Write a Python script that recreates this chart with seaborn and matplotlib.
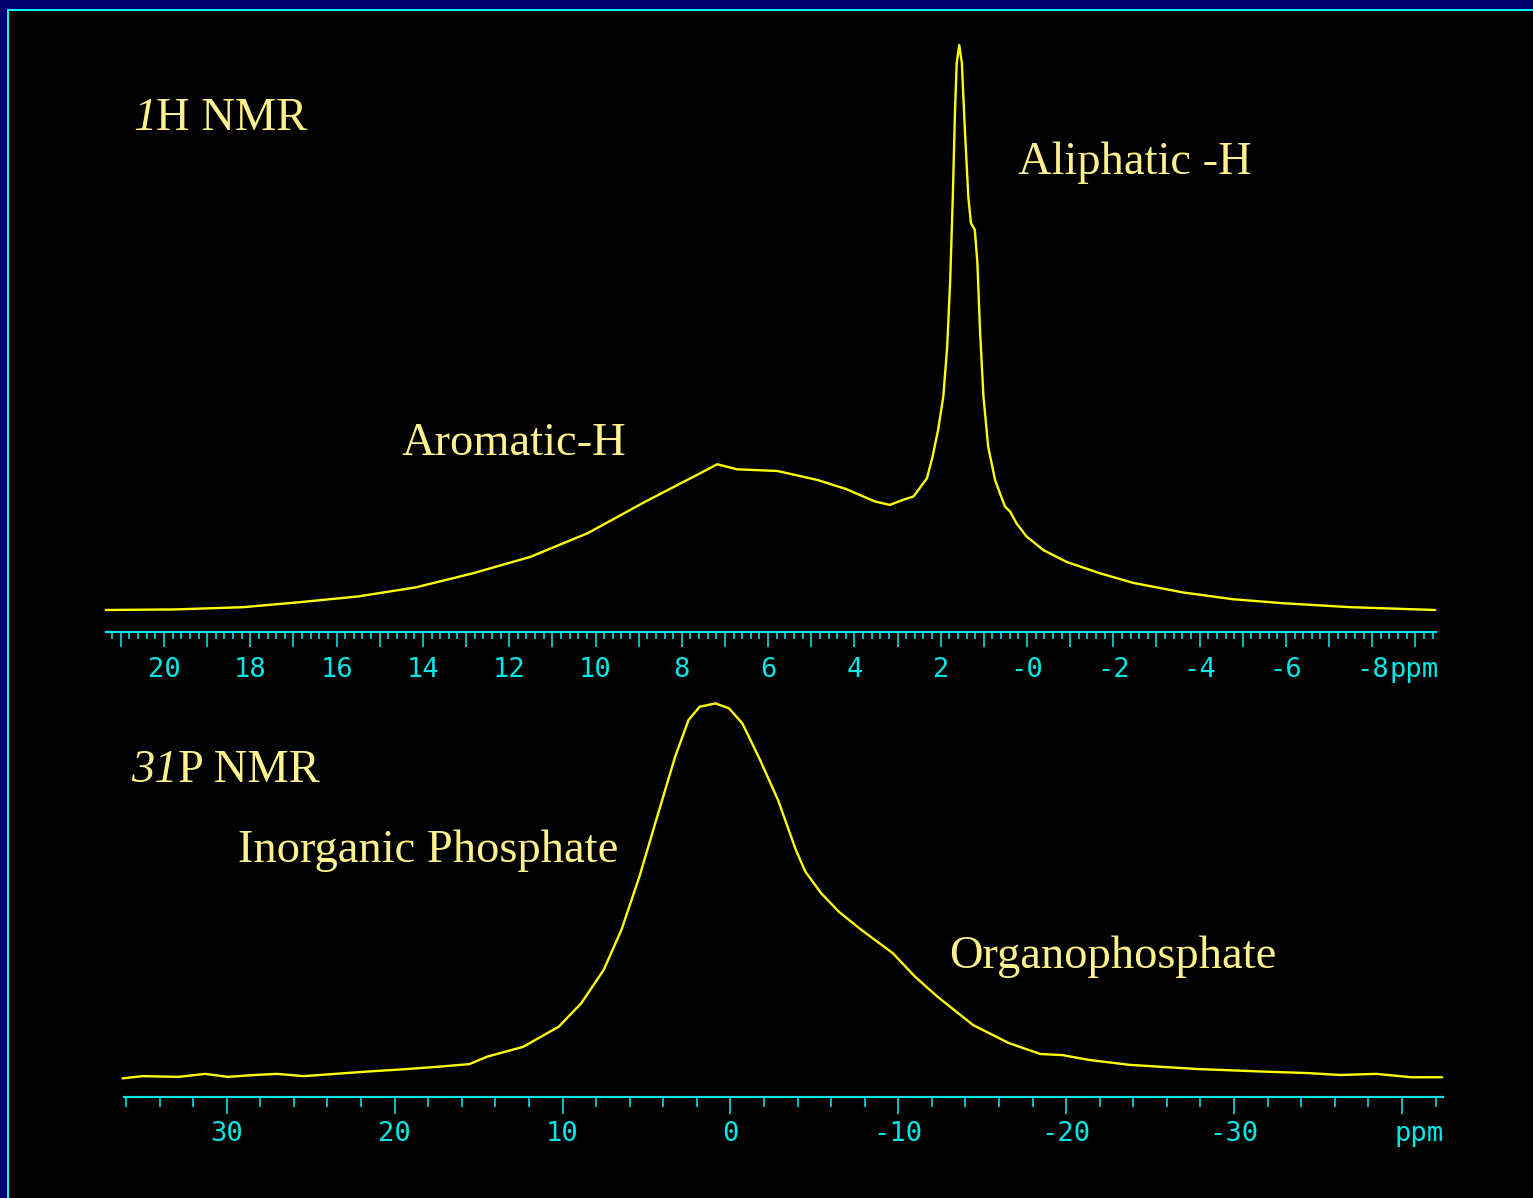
import numpy as np
import pandas as pd
import seaborn as sns
import matplotlib
matplotlib.use("Agg")
import matplotlib.pyplot as plt
import matplotlib.patches as mpatches
from matplotlib.ticker import MultipleLocator, FuncFormatter

# ---------------- data ----------------
h_ppm = [21.35, 19.75, 18.16, 16.83, 15.50, 14.17, 12.84, 11.51, 10.18, 8.84,
         7.65, 7.18, 6.72, 5.78, 4.85, 4.19, 3.52, 3.18, 2.87, 2.63,
         2.32, 2.19, 2.06, 1.94, 1.85, 1.78, 1.72, 1.67, 1.63, 1.57,
         1.51, 1.44, 1.36, 1.30, 1.21, 1.15, 1.09, 1.01, 0.90, 0.74,
         0.63, 0.51, 0.39, 0.24, 0.01, -0.38, -0.92, -1.69, -2.46, -3.62,
         -4.78, -5.94, -7.49, -9.46]
h_int = [0.0, 0.1, 0.5, 1.4, 2.4, 4.0, 6.5, 9.4, 13.6, 19.2,
         23.9, 25.8, 24.9, 24.6, 23.0, 21.4, 19.2, 18.6, 19.5, 20.1,
         23.3, 27.1, 31.9, 37.8, 46.6, 58.4, 73.1, 88.0, 96.8, 100.0,
         96.8, 85.0, 73.1, 68.5, 67.3, 61.4, 49.6, 37.8, 28.9, 23.0,
         20.7, 18.3, 17.4, 15.3, 13.0, 10.6, 8.5, 6.5, 4.8, 3.1,
         1.9, 1.2, 0.5, 0.0]

p_ppm = [36.20, 35.01, 32.87, 31.28, 29.94, 28.34, 27.01, 25.41, 23.55, 21.68,
         19.55, 17.41, 15.55, 14.48, 12.35, 10.22, 8.89, 7.55, 6.49, 5.42,
         4.36, 3.29, 2.49, 1.83, 0.89, 0.09, -0.71, -1.77,
         -2.84, -3.90, -4.47, -5.40, -6.47, -7.80, -9.67, -11.00, -12.33,
         -14.46, -16.59, -18.46, -19.79, -21.39, -23.79, -27.79, -31.79, -34.45, -36.32,
         -38.45, -40.58, -42.39]
p_int = [-0.1, 0.5, 0.3, 1.1, 0.3, 0.8, 1.1, 0.5, 1.1, 1.7,
         2.3, 3.0, 3.7, 5.7, 8.3, 13.7, 19.9, 28.8, 39.5, 53.7,
         69.7, 85.7, 95.5, 99.0, 99.9, 98.6, 94.6, 84.8,
         74.1, 60.8, 55.0, 49.3, 44.3, 39.5, 33.3, 27.0, 21.7,
         14.1, 9.3, 6.4, 6.1, 4.8, 3.5, 2.4, 1.7, 1.3, 0.8,
         1.1, 0.2, 0.2]

h_tick_values = [20, 18, 16, 14, 12, 10, 8, 6, 4, 2, 0, -2, -4, -6, -8]
h_tick_labels = ["20", "18", "16", "14", "12", "10", "8", "6", "4", "2",
                 "-0", "-2", "-4", "-6", "-8"]
p_tick_values = [30, 20, 10, 0, -10, -20, -30]
p_tick_labels = ["30", "20", "10", "0", "-10", "-20", "-30"]

# ---------------- style ----------------
W, H = 1533, 1198
sns.set_theme(style="dark")
plt.rcParams["font.family"] = ["DejaVu Sans Mono"]
plt.rcParams["axes.unicode_minus"] = False

NAVY = "#00006E"
CYAN = "#00E8E8"
FRAME = "#00FFFF"
LINE = "#FFFF00"
TEXT = "#FFF28C"
px = 72.0 / 100.0  # points per pixel

fig = plt.figure(figsize=(W / 100, H / 100), dpi=100)
fig.patch.set_facecolor(NAVY)
frame = mpatches.Rectangle((7.5 / W, -0.05), 1.1, (1 - 9.5 / H) + 0.05,
                           transform=fig.transFigure, facecolor="black",
                           edgecolor=FRAME, linewidth=2 * px, zorder=-10)
fig.patches.append(frame)


def fig_axes(x0, x1, ytop, ybot):
    return fig.add_axes([x0 / W, 1 - ybot / H, (x1 - x0) / W, (ybot - ytop) / H])


def style_axis(ax, major_len, minor_len, pad):
    ax.set_facecolor("none")
    ax.grid(False)
    for s in ["top", "left", "right"]:
        ax.spines[s].set_visible(False)
    ax.spines["bottom"].set_color(CYAN)
    ax.spines["bottom"].set_linewidth(2.2 * px)
    ax.set_yticks([])
    ax.set_xlabel("")
    ax.set_ylabel("")
    ax.tick_params(axis="x", which="major", direction="out", length=major_len * px,
                   width=1.6 * px, color=CYAN, labelcolor=CYAN, labelsize=19.5,
                   pad=pad, bottom=True)
    ax.tick_params(axis="x", which="minor", direction="out", length=minor_len * px,
                   width=1.6 * px, color=CYAN, bottom=True)


# ---------------- 1H panel ----------------
ax1 = fig_axes(106, 1436, 40, 632)
df_h = pd.DataFrame({"ppm": h_ppm, "intensity": h_int})
sns.lineplot(data=df_h, x="ppm", y="intensity", ax=ax1, color=LINE,
             estimator=None, sort=False, legend=False)
ax1.lines[0].set_linewidth(1.7)
ax1.lines[0].set_clip_on(False)
ax1.lines[0].set_solid_joinstyle("round")
ax1.set_xlim(21.344, -9.478)
ax1.set_ylim(-3.894, 100.885)
style_axis(ax1, 15, 7, 7)
ax1.xaxis.set_major_locator(MultipleLocator(1))
ax1.xaxis.set_minor_locator(MultipleLocator(0.2))
h_map = {v: l for v, l in zip(h_tick_values, h_tick_labels)}
ax1.xaxis.set_major_formatter(FuncFormatter(lambda v, p: h_map.get(int(round(v)), "")
                                            if abs(v - round(v)) < 1e-6 else ""))
ax1.annotate("ppm", xy=(-8, 0), xycoords=ax1.get_xaxis_transform(),
             xytext=(17 * px, -(15 * px + 7)), textcoords="offset points",
             ha="left", va="top", color=CYAN, fontsize=19.5,
             family="DejaVu Sans Mono", annotation_clip=False)

# ---------------- 31P panel ----------------
ax2 = fig_axes(124.3, 1443.1, 690, 1097)
df_p = pd.DataFrame({"ppm": p_ppm, "intensity": p_int})
sns.lineplot(data=df_p, x="ppm", y="intensity", ax=ax2, color=LINE,
             estimator=None, sort=False, legend=False)
ax2.lines[0].set_linewidth(1.7)
ax2.lines[0].set_clip_on(False)
ax2.lines[0].set_solid_joinstyle("round")
ax2.set_xlim(36.1, -42.45)
ax2.set_ylim(-5.067, 103.47)
style_axis(ax2, 17, 10, 5)
ax2.xaxis.set_major_locator(MultipleLocator(10))
ax2.xaxis.set_minor_locator(MultipleLocator(2))
p_map = {v: l for v, l in zip(p_tick_values, p_tick_labels)}
ax2.xaxis.set_major_formatter(FuncFormatter(lambda v, p: p_map.get(int(round(v)), "")))
ax2.annotate("ppm", xy=(-40, 0), xycoords=ax2.get_xaxis_transform(),
             xytext=(-7 * px, -(17 * px + 5)), textcoords="offset points",
             ha="left", va="top", color=CYAN, fontsize=19.5,
             family="DejaVu Sans Mono", annotation_clip=False)

# ---------------- annotations ----------------
renderer = fig.canvas.get_renderer()
FS = 33.5


def label(x, y, s, italic_prefix=None):
    xf, yf = x / W, 1 - y / H
    if italic_prefix:
        t = fig.text(xf, yf, italic_prefix, ha="left", va="baseline", color=TEXT,
                     fontsize=FS, family="Liberation Serif", style="italic")
        bb = t.get_window_extent(renderer=renderer)
        xf = bb.x1 / W
    fig.text(xf, yf, s, ha="left", va="baseline", color=TEXT,
             fontsize=FS, family="Liberation Serif")


label(133, 130, "H NMR", italic_prefix="1")
label(1018, 174, "Aliphatic -H")
label(401, 455, "Aromatic-H")
label(131, 782, "P NMR", italic_prefix="31")
label(238, 862, "Inorganic Phosphate")
label(949, 968, "Organophosphate")

fig.savefig("out.png", dpi=100, facecolor=fig.get_facecolor())
